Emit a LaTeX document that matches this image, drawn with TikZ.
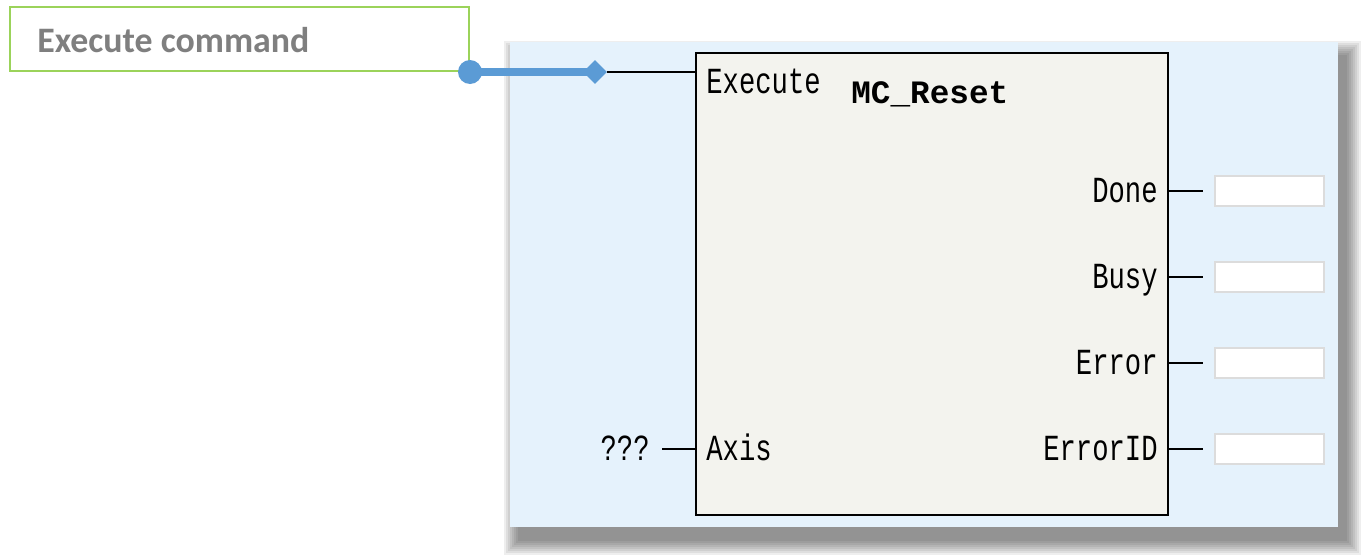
\documentclass[tikz,border=0pt]{standalone}
\usepackage{fontspec}
\setmonofont{Liberation Mono}
\newfontfamily\calloutfont{Carlito}
\usepackage{xcolor}
\usepackage{tikz}
\usetikzlibrary{shapes.geometric, positioning}

\definecolor{panelblue}{HTML}{E5F2FC}
\definecolor{blockfill}{HTML}{F3F3EE}
\definecolor{linkblue}{HTML}{5B9BD5}
\definecolor{calloutgreen}{HTML}{9BD35A}
\definecolor{calloutgray}{HTML}{7F7F7F}
\definecolor{boxgray}{HTML}{DCDCDC}

\newcommand{\pinname}[1]{\scalebox{1}[1.35]{#1}}

\begin{document}
\begin{tikzpicture}[x=0.02cm, y=-0.02cm,
    pinlabel/.style={font=\ttfamily\fontsize{15.5}{16}\selectfont, inner sep=0pt},
    outbox/.style={draw=boxgray, line width=1pt, fill=white, minimum width=2.18cm, minimum height=0.6cm, inner sep=0pt},
    wire/.style={line width=1.1pt}]
\useasboundingbox (0,0) rectangle (1367,555);

% soft drop shadow behind the panel
\foreach \r in {14,12,...,0}
    \fill[black, opacity=0.065] (518-\r,55-\r) rectangle (1347+\r,541+\r);
\fill[panelblue] (510,42) rectangle (1338,527);

% function block
\node[draw, line width=1.3pt, fill=blockfill, minimum width=9.44cm, minimum height=9.24cm, inner sep=0pt] (fb) at (932,284) {};
\node[font=\ttfamily\bfseries\fontsize{18.6}{20}\selectfont, anchor=base west, inner sep=0pt] (title) at (851,103) {MC\_Reset};

% inputs
\node[pinlabel, anchor=base west] (exe) at (706,93) {\pinname{Execute}};
\node[pinlabel, anchor=base west] (axis) at (706,460) {\pinname{Axis}};
\node[pinlabel, anchor=base east] (unset) at (650,460) {\pinname{???}};
\coordinate (axin) at (662,449);
\draw[wire] (axin) -- (fb.west |- axin);

% outputs
\foreach \name/\y in {Done/191, Busy/277, Error/363, ErrorID/449} {
    \node[pinlabel, anchor=base east] (\name) at (1158,\y+11) {\pinname{\name}};
    \node[outbox] (\name box) at (1269.5,\y) {};
    \coordinate (\name end) at (1203,\y);
    \draw[wire] (fb.east |- \name box) -- (\name end);
}

% callout
\node[draw=calloutgreen, line width=1pt, fill=white, minimum width=9.18cm, minimum height=1.28cm, inner sep=0pt] (cmd) at (239.5,39) {};
\node[font=\calloutfont\bfseries\fontsize{20.4}{22}\selectfont, text=calloutgray, anchor=base west, inner sep=0pt] (cmdtext) at (37,52) {Execute command};

\node[diamond, fill=linkblue, minimum width=0.48cm, minimum height=0.48cm, inner sep=0pt] (dia) at (595,72) {};
\node[circle, fill=linkblue, minimum size=0.48cm, inner sep=0pt] (dot) at (470,72) {};
\draw[wire] (dia.east) -- (fb.west |- dia);
\draw[linkblue, line width=0.16cm] (dot.center) -- (dia.center);
\end{tikzpicture}
\end{document}
